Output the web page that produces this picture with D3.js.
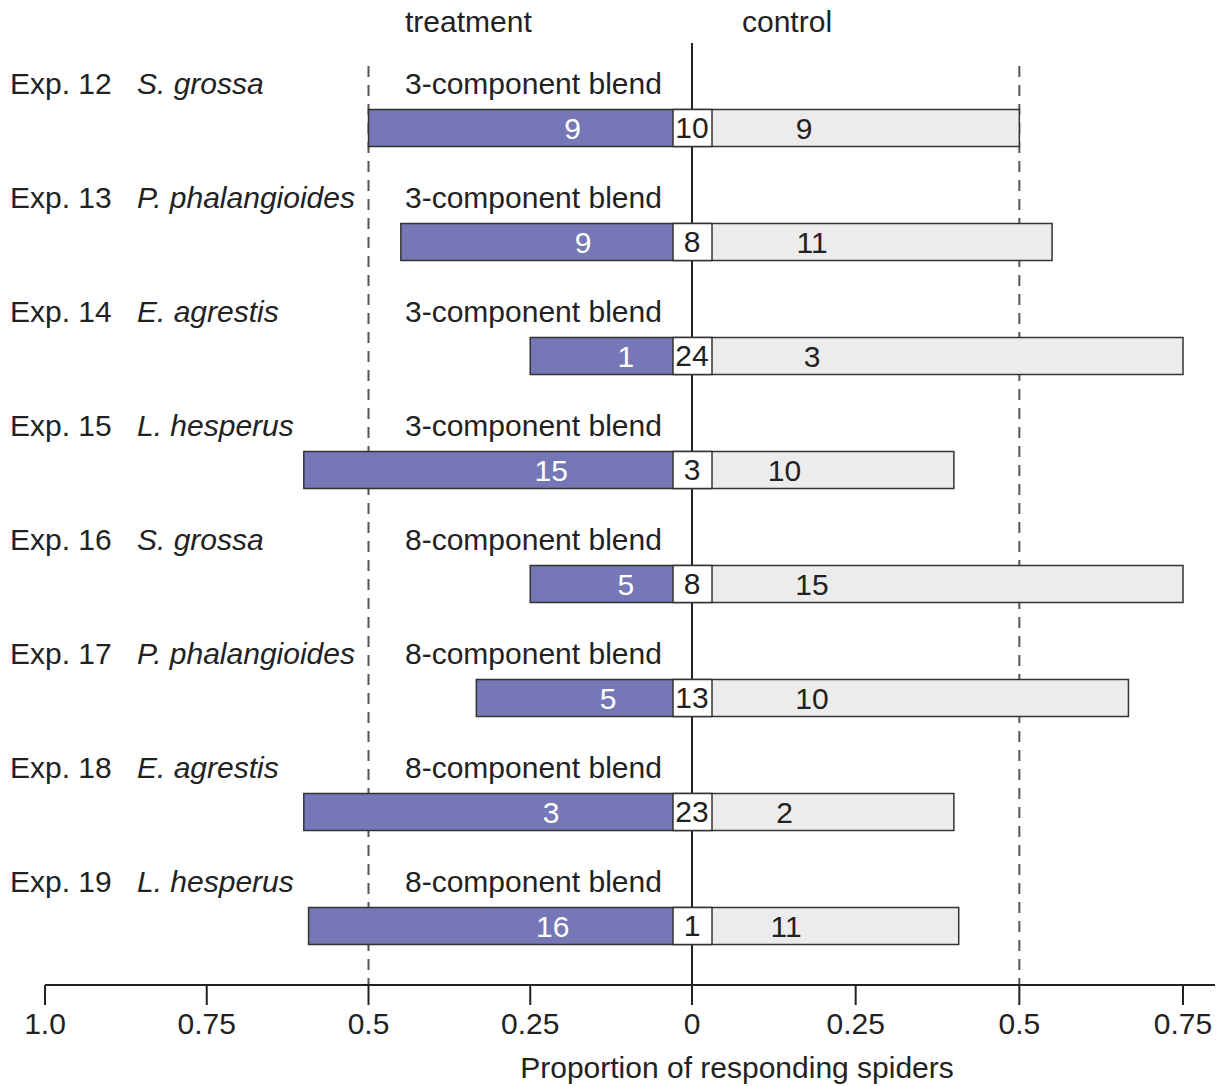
<!DOCTYPE html>
<html>
<head>
<meta charset="utf-8">
<script src="https://cdn.jsdelivr.net/npm/d3@7"></script>
<style>
  body { margin: 0; background: #fff; }
  svg { display: block; font-family: "Liberation Sans", Arial, sans-serif; }
</style>
</head>
<body>
<div id="chart"></div>
<script>
// experiment rows, top to bottom
const experiments = ['Exp. 12', 'Exp. 13', 'Exp. 14', 'Exp. 15', 'Exp. 16', 'Exp. 17', 'Exp. 18', 'Exp. 19'];
const species = ['S. grossa', 'P. phalangioides', 'E. agrestis', 'L. hesperus',
  'S. grossa', 'P. phalangioides', 'E. agrestis', 'L. hesperus'];
const blends = ['3-component blend', '3-component blend', '3-component blend', '3-component blend',
  '8-component blend', '8-component blend', '8-component blend', '8-component blend'];
// spiders choosing treatment / control / no choice
const treatmentCounts = [9, 9, 1, 15, 5, 5, 3, 16];
const controlCounts = [9, 11, 3, 10, 15, 10, 2, 11];
const noChoiceCounts = [10, 8, 24, 3, 8, 13, 23, 1];
// axis ticks (signed: negative = treatment side)
const tickValues = [-1, -0.75, -0.5, -0.25, 0, 0.25, 0.5, 0.75];
const tickLabels = ['1.0', '0.75', '0.5', '0.25', '0', '0.25', '0.5', '0.75'];

const width = 1228, height = 1086;
const fontSize = 30;

const svg = d3.select('#chart').append('svg')
  .attr('width', width)
  .attr('height', height);

const x = d3.scaleLinear()
  .domain([-1, 0, 0.75])
  .range([45, 692, 1183]);

const y = d3.scalePoint()
  .domain(experiments)
  .range([128, 926]);

const barH = 37;
const axisY = 985;

const rows = experiments.map((e, i) => {
  const responding = treatmentCounts[i] + controlCounts[i];
  return {
    exp: e,
    species: species[i],
    blend: blends[i],
    treat: treatmentCounts[i],
    ctrl: controlCounts[i],
    none: noChoiceCounts[i],
    pTreat: treatmentCounts[i] / responding,
    pCtrl: controlCounts[i] / responding
  };
});

// reference lines at 0.5
svg.selectAll('line.ref')
  .data([-0.5, 0.5])
  .join('line')
  .attr('class', 'ref')
  .attr('x1', d => x(d)).attr('x2', d => x(d))
  .attr('y1', 66).attr('y2', axisY)
  .attr('stroke', '#555')
  .attr('stroke-width', 2)
  .attr('stroke-dasharray', '11,8');

svg.append('line')
  .attr('x1', x(0)).attr('x2', x(0))
  .attr('y1', 43).attr('y2', axisY)
  .attr('stroke', '#222')
  .attr('stroke-width', 2);

// headers
svg.append('text').attr('x', 405).attr('y', 32)
  .attr('font-size', fontSize).attr('fill', '#222').text('treatment');
svg.append('text').attr('x', 742).attr('y', 32)
  .attr('font-size', fontSize).attr('fill', '#222').text('control');

const row = svg.selectAll('g.row')
  .data(rows)
  .join('g')
  .attr('class', 'row')
  .attr('transform', d => `translate(0,${y(d.exp)})`);

// row labels
row.append('text')
  .attr('x', 10).attr('y', -34)
  .attr('font-size', fontSize).attr('fill', '#222')
  .text(d => d.exp);
row.append('text')
  .attr('x', 137).attr('y', -34)
  .attr('font-size', fontSize).attr('font-style', 'italic').attr('fill', '#222')
  .text(d => d.species);
row.append('text')
  .attr('x', 405).attr('y', -34)
  .attr('font-size', fontSize).attr('fill', '#222')
  .text(d => d.blend);

// bars
row.append('rect')
  .attr('x', d => x(-d.pTreat))
  .attr('y', -barH / 2)
  .attr('width', d => x(0) - x(-d.pTreat))
  .attr('height', barH)
  .attr('fill', '#7677b6')
  .attr('stroke', '#333')
  .attr('stroke-width', 1.5);

row.append('rect')
  .attr('x', x(0))
  .attr('y', -barH / 2)
  .attr('width', d => x(d.pCtrl) - x(0))
  .attr('height', barH)
  .attr('fill', '#ececec')
  .attr('stroke', '#333')
  .attr('stroke-width', 1.5);

// no-choice box
const boxL = x(0) - 19, boxW = 39;
row.append('rect')
  .attr('x', boxL)
  .attr('y', -barH / 2)
  .attr('width', boxW)
  .attr('height', barH)
  .attr('fill', '#fff')
  .attr('stroke', '#333')
  .attr('stroke-width', 1.5);

row.append('text')
  .attr('x', x(0))
  .attr('y', 10)
  .attr('text-anchor', 'middle')
  .attr('font-size', fontSize).attr('fill', '#222')
  .text(d => d.none);

// counts inside bars
row.append('text')
  .attr('x', d => boxL - 0.33 * (boxL - x(-d.pTreat)))
  .attr('y', 11)
  .attr('text-anchor', 'middle')
  .attr('font-size', fontSize).attr('fill', '#fff')
  .text(d => d.treat);

row.append('text')
  .attr('x', d => {
    const right = boxL + boxW;
    const w = x(d.pCtrl) - right;
    return right + Math.min(100, 0.3 * w);
  })
  .attr('y', 11)
  .attr('text-anchor', 'middle')
  .attr('font-size', fontSize).attr('fill', '#222')
  .text(d => d.ctrl);

// axis
svg.append('line')
  .attr('x1', 45).attr('x2', 1215)
  .attr('y1', axisY).attr('y2', axisY)
  .attr('stroke', '#222').attr('stroke-width', 2);

const ticks = svg.selectAll('g.tick')
  .data(tickValues)
  .join('g')
  .attr('class', 'tick')
  .attr('transform', d => `translate(${x(d)},${axisY})`);
ticks.append('line')
  .attr('y1', 0).attr('y2', 20)
  .attr('stroke', '#222').attr('stroke-width', 2);
ticks.append('text')
  .attr('y', 49)
  .attr('text-anchor', 'middle')
  .attr('font-size', fontSize).attr('fill', '#222')
  .text((d, i) => tickLabels[i]);

svg.append('text')
  .attr('x', 737).attr('y', 1078)
  .attr('text-anchor', 'middle')
  .attr('font-size', fontSize).attr('fill', '#222')
  .text('Proportion of responding spiders');
</script>
</body>
</html>
